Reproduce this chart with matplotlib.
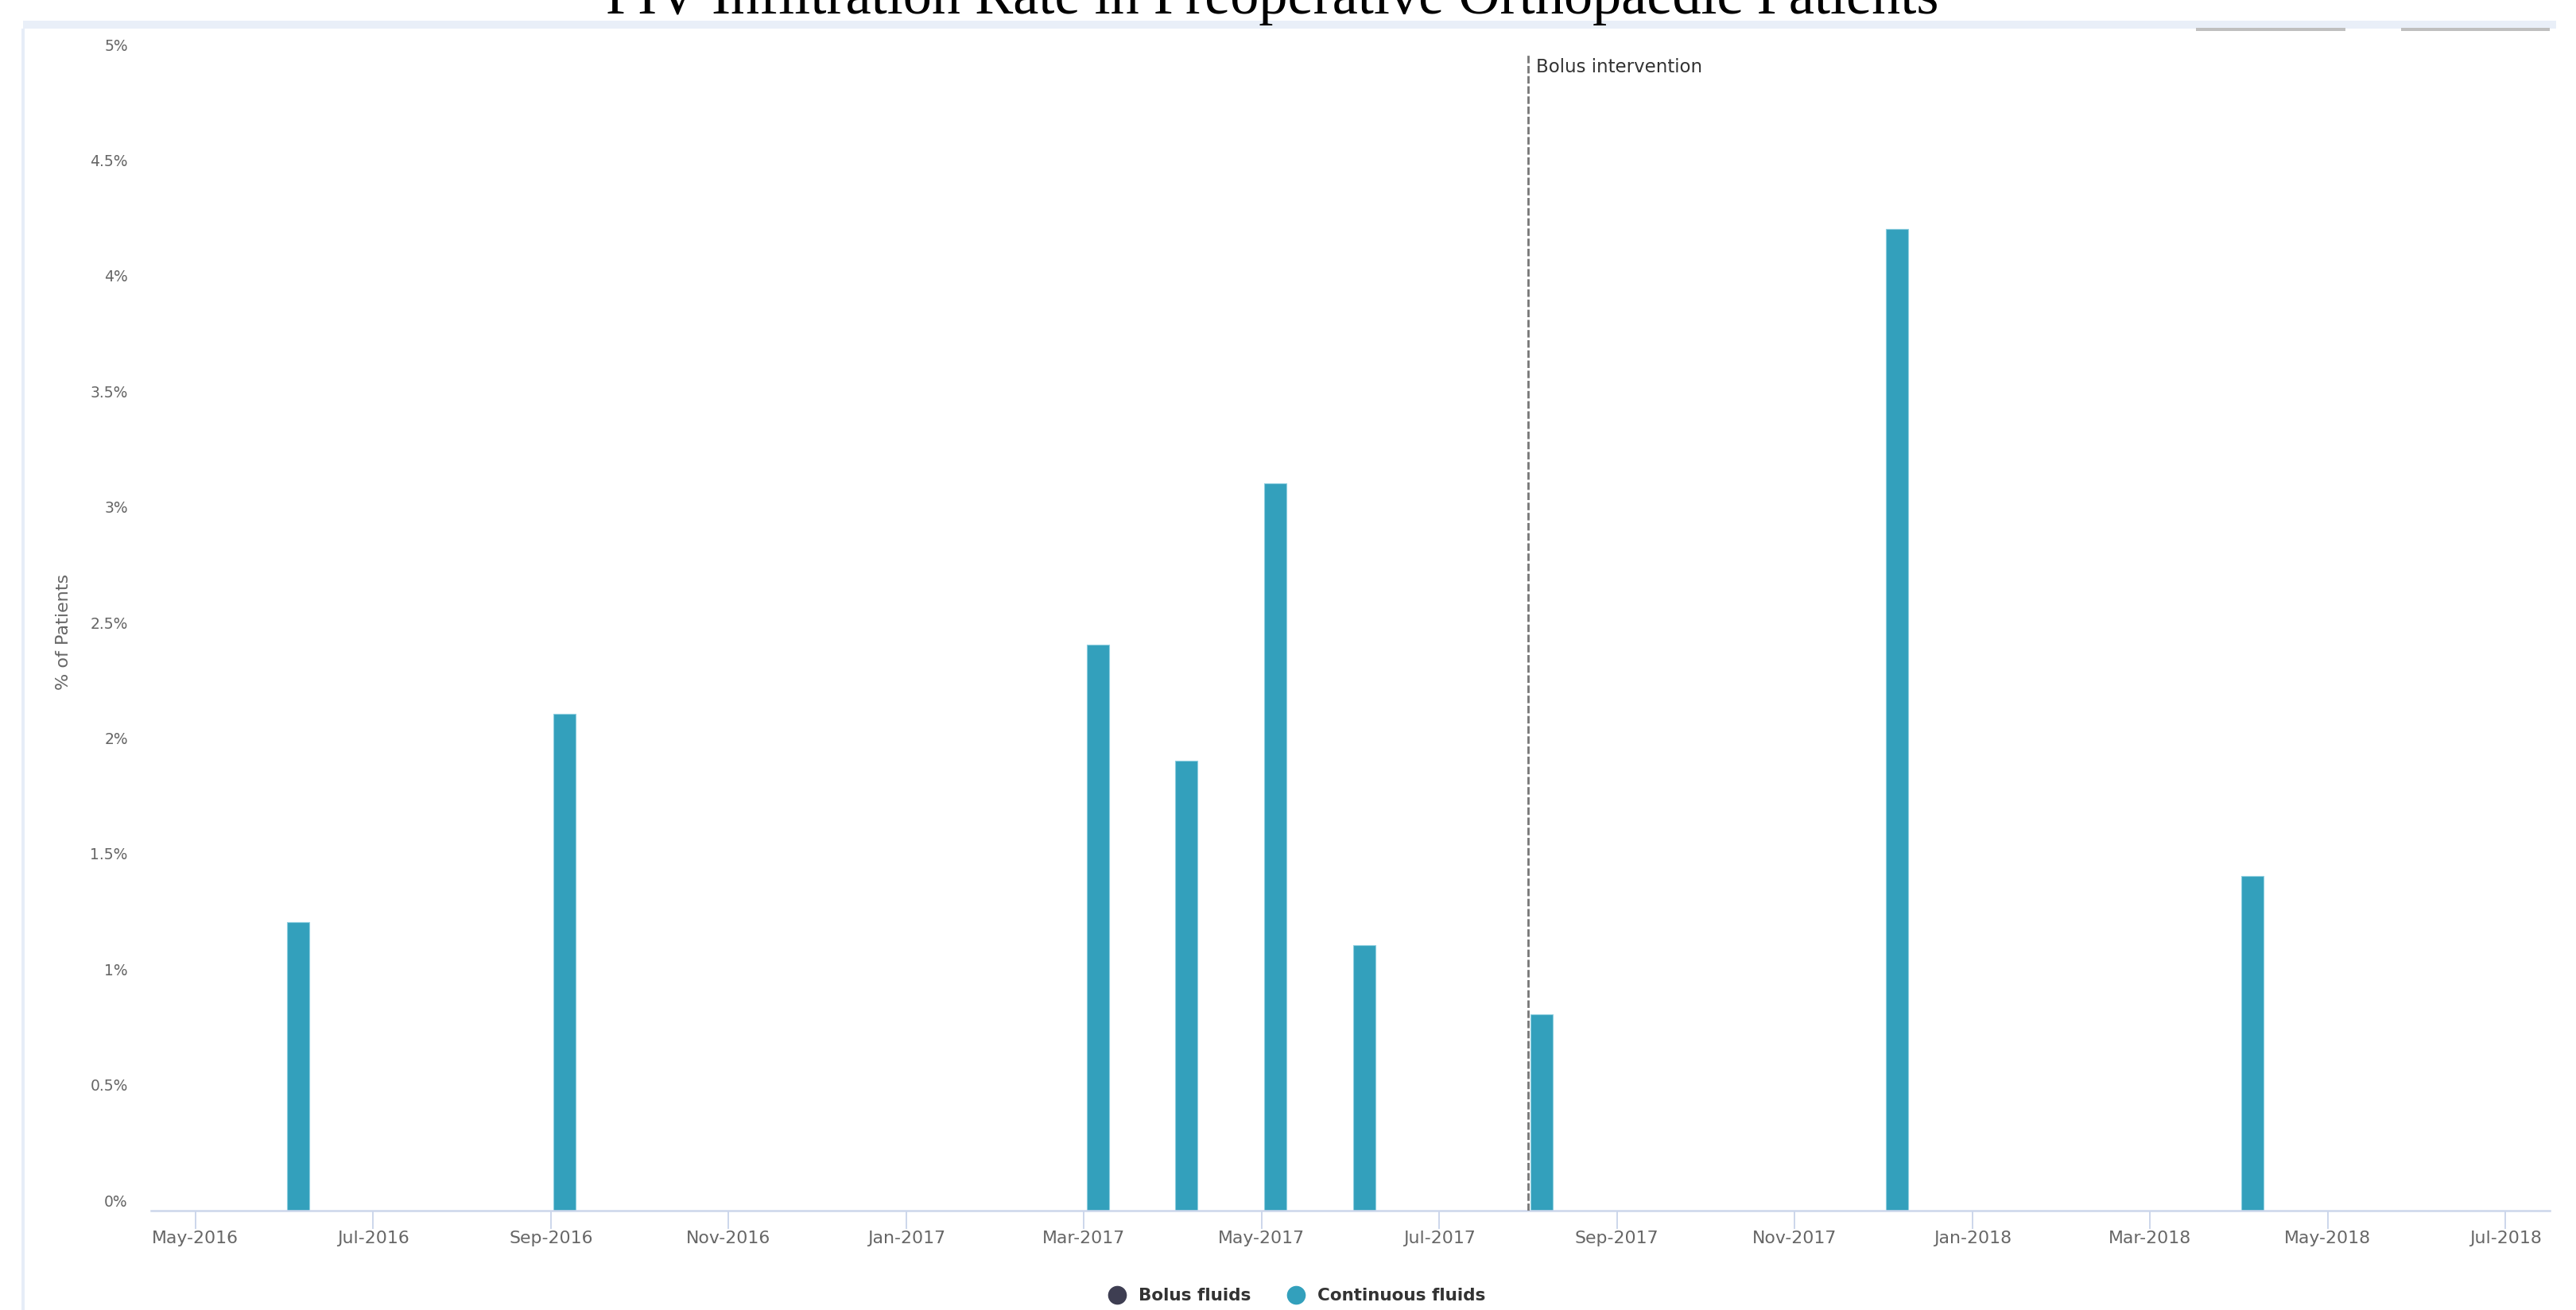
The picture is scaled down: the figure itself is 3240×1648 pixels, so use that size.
import numpy as np
import matplotlib
matplotlib.use("Agg")
import matplotlib.pyplot as plt
from matplotlib.patches import Rectangle
from matplotlib.lines import Line2D

# ---- data -------------------------------------------------------------
months = ["May-2016", "Jun-2016", "Jul-2016", "Aug-2016", "Sep-2016", "Oct-2016",
          "Nov-2016", "Dec-2016", "Jan-2017", "Feb-2017", "Mar-2017", "Apr-2017",
          "May-2017", "Jun-2017", "Jul-2017", "Aug-2017", "Sep-2017", "Oct-2017",
          "Nov-2017", "Dec-2017", "Jan-2018", "Feb-2018", "Mar-2018", "Apr-2018",
          "May-2018", "Jun-2018", "Jul-2018"]
bolus_fluids = [0, 0, 0, 0, 0, 0, 0, 0, 0, 0, 0, 0, 0, 0,
                0, 0, 0, 0, 0, 0, 0, 0, 0, 0, 0, 0, 0]
continuous_fluids = [0, 1.2, 0, 0, 2.1, 0, 0, 0, 0, 0, 2.4, 1.9, 3.1, 1.1,
                     0, 0.8, 0, 0, 0, 4.2, 0, 0, 0, 1.4, 0, 0, 0]
y_ticks = [0, 0.5, 1, 1.5, 2, 2.5, 3, 3.5, 4, 4.5, 5]
y_tick_labels = ["0%", "0.5%", "1%", "1.5%", "2%", "2.5%", "3%", "3.5%", "4%", "4.5%", "5%"]
intervention_month = "Aug-2017"
title = "PIV Infiltration Rate in Preoperative Orthopaedic Patients"

# ---- styling ----------------------------------------------------------
W, H = 3240, 1649
C_CONT = "#33a0bc"
C_BOLUS = "#3e3e52"
C_AXIS = "#ccd6eb"
C_LABEL = "#666666"
C_TEXT = "#333333"

def fx(px):
    return px / W

def fy(py):
    return 1 - py / H

plt.rcParams["font.family"] = ["DejaVu Sans"]
fig = plt.figure(figsize=(W / 100, H / 100), dpi=100)
fig.patch.set_facecolor("white")

# frame decorations of the chart container
fig.add_artist(Rectangle((fx(29), fy(37)), fx(3215) - fx(29), (37 - 27) / H,
                         transform=fig.transFigure, facecolor="#e9eff8",
                         edgecolor="none", zorder=0))
fig.add_artist(Rectangle((fx(27), 0), 4 / W, fy(37),
                         transform=fig.transFigure, facecolor="#e6edf7",
                         edgecolor="none", zorder=0))
for x0, x1 in [(2762, 2950), (3020, 3207)]:
    fig.add_artist(Rectangle((fx(x0), fy(40)), (x1 - x0) / W, 4 / H,
                             transform=fig.transFigure, facecolor="#bfbfbf",
                             edgecolor="none", zorder=1))

# ---- plot area --------------------------------------------------------
ax = fig.add_axes([fx(190), fy(1524), (3207 - 190) / W, (1524 - 56) / H])
y_floor = -0.048
ax.set_ylim(y_floor, 5)
ax.set_xlim(-0.5, len(months) - 0.5)

x = np.arange(len(months))
offset, bar_w = 0.155, 0.25
for values, color, sign in [(bolus_fluids, C_BOLUS, -1), (continuous_fluids, C_CONT, 1)]:
    vals = np.asarray(values, dtype=float)
    mask = vals > 0
    if mask.any():
        ax.bar(x[mask] + sign * offset, vals[mask] - y_floor, width=bar_w,
               bottom=y_floor, color=color, edgecolor="#8fcfe0",
               linewidth=0.8, zorder=2)

# intervention marker
xi = months.index(intervention_month)
y_line_top = 4.96
ax.plot([xi, xi], [y_floor, y_line_top], color="#777777", lw=2.0,
        dashes=(3.4, 1.2), zorder=3, solid_capstyle="butt")
ax.annotate("Bolus intervention", xy=(xi, y_line_top), xytext=(7, -4),
            textcoords="offset points", ha="left", va="top",
            fontsize=16.5, color=C_TEXT)

# axes styling
for s in ("left", "top", "right"):
    ax.spines[s].set_visible(False)
ax.spines["bottom"].set_color(C_AXIS)
ax.spines["bottom"].set_linewidth(1.8)

ax.set_yticks(y_ticks)
ax.set_yticklabels(y_tick_labels)
ax.tick_params(axis="y", length=0, pad=21, labelsize=13.5, labelcolor=C_LABEL)

ax.set_xticks(x[::2])
ax.set_xticklabels(months[::2])
ax.tick_params(axis="x", length=16.5, width=1.4, color=C_AXIS, pad=1,
               labelsize=15.8, labelcolor=C_LABEL)

fig.text(fx(80), fy(795), "% of Patients", rotation=90, ha="center",
         va="center", fontsize=16, color=C_LABEL)

# title (sized to its rendered width)
t = fig.text(fx(1600), fy(17), title, ha="center", va="baseline",
             family=["Liberation Serif", "DejaVu Serif"], fontsize=50,
             color="black", zorder=5)
renderer = fig.canvas.get_renderer()
w = t.get_window_extent(renderer).width
t.set_fontsize(50 * 1678 / w)

# legend
for mx, tx, label, color in [(1405, 1432, "Bolus fluids", C_BOLUS),
                             (1630, 1657, "Continuous fluids", C_CONT)]:
    fig.add_artist(Line2D([fx(mx)], [fy(1630)], marker="o", markersize=16,
                          markerfacecolor=color, markeredgecolor=color,
                          linestyle="none", transform=fig.transFigure))
    fig.text(fx(tx), fy(1630), label, ha="left", va="center",
             fontsize=15.5, fontweight="bold", color=C_TEXT)

fig.savefig("out.png", dpi=100)
